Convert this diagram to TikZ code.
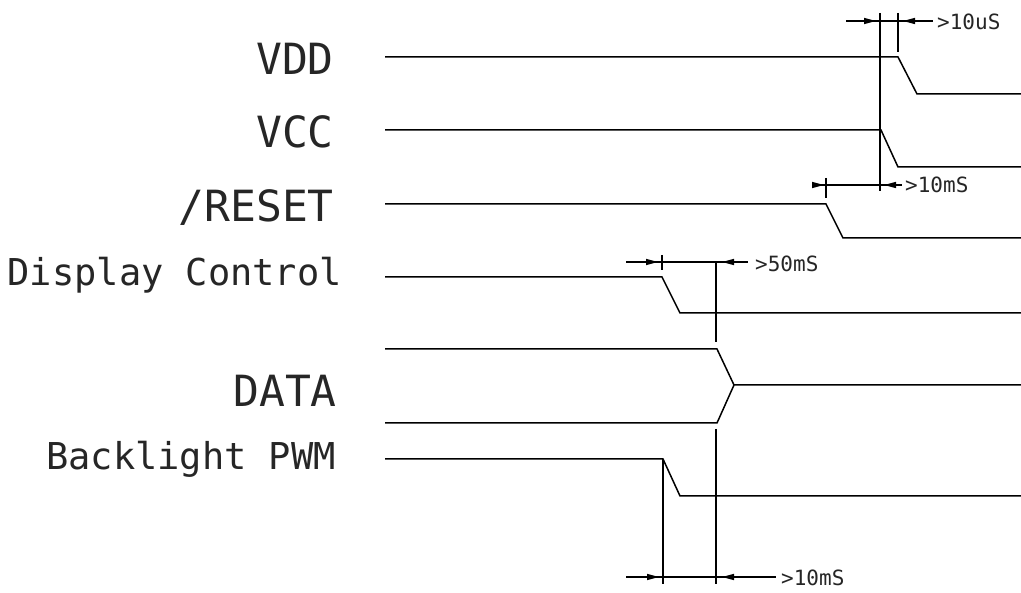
\documentclass[tikz,border=0pt]{standalone}
\usepackage{fontspec}
\newfontfamily\cadfont{DejaVu Sans Mono}
\usetikzlibrary{arrows.meta}
\begin{document}
\begin{tikzpicture}[x=1pt,y=-1pt,
  sig/.style={line width=1.5pt,line join=miter},
  dim/.style={line width=1.4pt},
  dimarrow/.style={line width=1.4pt,-{Triangle[length=12pt,width=6pt]}},
  biglabel/.style={anchor=base east,inner sep=0pt,font=\cadfont\fontsize{43}{43}\selectfont,text=black!85},
  midlabel/.style={anchor=base east,inner sep=0pt,font=\cadfont\fontsize{37}{37}\selectfont,text=black!85},
  smalllabel/.style={anchor=base west,inner sep=0pt,font=\cadfont\fontsize{21}{21}\selectfont,text=black!85}]
\useasboundingbox (0,0) rectangle (1021,593);
\fill[white] (0,0) rectangle (1021,593);

% labels
\node[biglabel] (lvdd) at (334,75) {VDD};
\node[biglabel] (lvcc) at (334,148) {VCC};
\node[biglabel] (lrst) at (334,222) {/RESET};
\node[midlabel] (ldisp) at (342,286) {Display Control};
\node[biglabel] (ldata) at (337,407) {DATA};
\node[midlabel] (lbl) at (336,470) {Backlight PWM};

% signal coordinates
\coordinate (vdd0) at (385,57);  \coordinate (vdd1) at (898,57);
\coordinate (vdd2) at (917,94);  \coordinate (vdd3) at (1021,94);
\coordinate (vcc0) at (385,130); \coordinate (vcc1) at (881,130);
\coordinate (vcc2) at (898,167); \coordinate (vcc3) at (1021,167);
\coordinate (rst0) at (385,204); \coordinate (rst1) at (826,204);
\coordinate (rst2) at (843,238); \coordinate (rst3) at (1021,238);
\coordinate (dc0) at (385,277);  \coordinate (dc1) at (662,277);
\coordinate (dc2) at (680,313);  \coordinate (dc3) at (1021,313);
\coordinate (da0) at (385,349);  \coordinate (da1) at (717,349);
\coordinate (da2) at (734,385);  \coordinate (da3) at (1021,385);
\coordinate (db0) at (385,423);  \coordinate (db1) at (717,423);
\coordinate (bl0) at (385,459);  \coordinate (bl1) at (663,459);
\coordinate (bl2) at (680,496);  \coordinate (bl3) at (1021,496);

\draw[sig] (vdd0) -- (vdd1) -- (vdd2) -- (vdd3);
\draw[sig] (vcc0) -- (vcc1) -- (vcc2) -- (vcc3);
\draw[sig] (rst0) -- (rst1) -- (rst2) -- (rst3);
\draw[sig] (dc0) -- (dc1) -- (dc2) -- (dc3);
\draw[sig] (da0) -- (da1) -- (da2) -- (da3);
\draw[sig] (db0) -- (db1) -- (da2);
\draw[sig] (bl0) -- (bl1) -- (bl2) -- (bl3);

% --- >10uS dimension
\coordinate (a1) at (880,13);  \coordinate (a1b) at (880,191);
\coordinate (a2) at (898,13);  \coordinate (a2b) at (898,52);
\coordinate (d1l) at (846,21); \coordinate (d1r) at (933,21);
\coordinate (d1a) at (876,21); \coordinate (d1b) at (903,21);
\coordinate (d1al) at (858,21); \coordinate (d1br) at (921,21);
\draw[dim] (a1) -- (a1b);
\draw[dim] (a2) -- (a2b);
\draw[dim] (d1l) -- (d1r);
\draw[dimarrow] (d1al) -- (d1a);
\draw[dimarrow] (d1br) -- (d1b);
\node[smalllabel] (t1) at (937,30) {>10uS};

% --- >10mS (reset) dimension
\coordinate (tk2a) at (826,178); \coordinate (tk2b) at (826,198);
\coordinate (d2l) at (812,185); \coordinate (d2r) at (902,185);
\coordinate (d2a) at (824,185); \coordinate (d2b) at (884,185);
\coordinate (d2al) at (812,185); \coordinate (d2br) at (899,185);
\draw[dim] (tk2a) -- (tk2b);
\draw[dim] (d2l) -- (d2r);
\draw[dimarrow] (d2al) -- (d2a);
\draw[dimarrow] (d2br) -- (d2b);
\node[smalllabel] (t2) at (905,193) {>10mS};

% --- >50mS dimension
\coordinate (tk3a) at (662,255); \coordinate (tk3b) at (662,270);
\coordinate (v3t) at (716,262); \coordinate (v3m) at (716,342);
\coordinate (v3n) at (716,429); \coordinate (v3b) at (716,584);
\coordinate (d3l) at (626,262); \coordinate (d3r) at (748,262);
\coordinate (d3a) at (658,262); \coordinate (d3al) at (638,262);
\coordinate (d3b) at (722,262); \coordinate (d3br) at (742,262);
\draw[dim] (tk3a) -- (tk3b);
\draw[dim] (v3t) -- (v3m);
\draw[dim] (v3n) -- (v3b);
\draw[dim] (d3l) -- (d3r);
\draw[dimarrow] (d3al) -- (d3a);
\draw[dimarrow] (d3br) -- (d3b);
\node[smalllabel] (t3) at (755,272) {>50mS};

% --- bottom >10mS dimension
\coordinate (v4t) at (663,459); \coordinate (v4b) at (663,584);
\coordinate (d4l) at (626,577); \coordinate (d4r) at (776,577);
\coordinate (d4a) at (659,577); \coordinate (d4b) at (722,577);
\coordinate (d4al) at (639,577); \coordinate (d4br) at (742,577);
\draw[dim] (v4t) -- (v4b);
\draw[dim] (d4l) -- (d4r);
\draw[dimarrow] (d4al) -- (d4a);
\draw[dimarrow] (d4br) -- (d4b);
\node[smalllabel] (t4) at (781,586) {>10mS};
\end{tikzpicture}
\end{document}
